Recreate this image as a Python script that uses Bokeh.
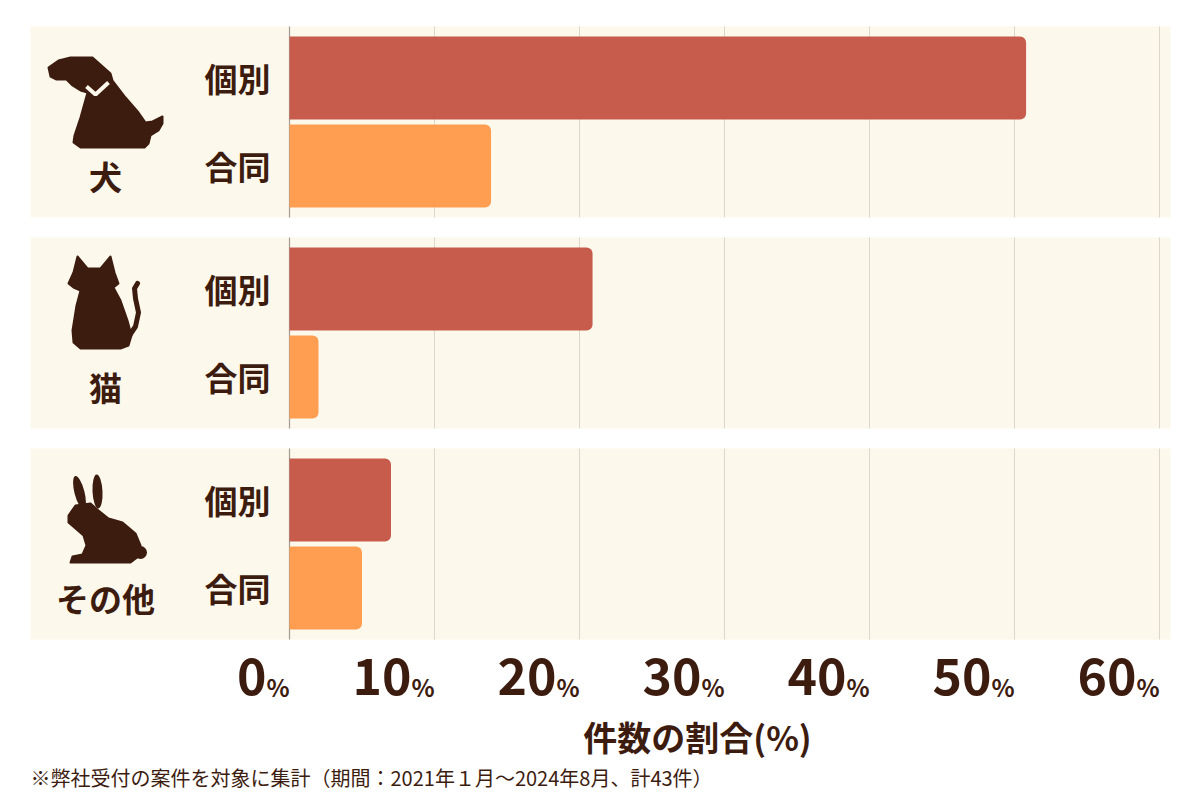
from bokeh.plotting import figure
from bokeh.models import Range1d
from bokeh.core.properties import value
from bokeh.embed import file_html
from bokeh.resources import INLINE

# data
groups = ["犬", "猫", "その他"]
kinds = ["個別", "合同"]
kobetsu = [50.8, 20.9, 7.0]   # 個別 (%)
goudou = [13.9, 2.0, 5.0]     # 合同 (%)
ticks = [0, 10, 20, 30, 40, 50, 60]
x_title = "件数の割合(%)"
note = "※弊社受付の案件を対象に集計（期間：2021年１月～2024年8月、計43件）"

W, H = 1184, 792
PX_PER_PCT = 14.5   # px per 1%
ZERO_X = 289        # px of 0%
ROW = 88            # px per bar row
GAP = 35            # extra px between groups
TOP = 77.5          # px of first bar center

FONT = value("Noto Sans CJK JP")
BROWN = "#3D1C10"
PANEL = "#FDF8EC"
C_KOBETSU = "#C75C4D"
C_GOUDOU = "#FF9E50"


def px_x(ix):
    return (ix - ZERO_X) / PX_PER_PCT


def px_y(iy):
    return (iy - TOP) / ROW


step = 2 + GAP / ROW
pos_k = [g * step for g in range(len(groups))]
pos_g = [g * step + 1 for g in range(len(groups))]
centers = [g * step + 0.5 for g in range(len(groups))]
half = 95.5 / ROW

p = figure(width=W, height=H, output_backend="svg", toolbar_location=None,
           x_range=Range1d(px_x(0), px_x(W)),
           y_range=Range1d(px_y(H), px_y(0)),
           min_border=0)
p.axis.visible = False
p.grid.visible = False
p.outline_line_color = None
p.background_fill_color = "white"
p.border_fill_color = "white"

# panels
p.quad(left=px_x(30), right=px_x(1170),
       top=[c - half for c in centers], bottom=[c + half for c in centers],
       fill_color=PANEL, line_color=None)

# grid lines per panel
gx, gy0, gy1 = [], [], []
for c in centers:
    for t in ticks[1:]:
        gx.append(t)
        gy0.append(c - half)
        gy1.append(c + half)
p.segment(x0=gx, y0=gy0, x1=gx, y1=gy1, line_color="#DDD6CA", line_width=1)
p.segment(x0=[0] * len(centers), y0=[c - half for c in centers],
          x1=[0] * len(centers), y1=[c + half for c in centers],
          line_color="#A39C93", line_width=1.2)

# bars
bh = 83 / ROW
p.hbar(y=pos_k, left=0, right=kobetsu, height=bh, fill_color=C_KOBETSU,
       line_color=None, border_radius=(0, 6, 6, 0))
p.hbar(y=pos_g, left=0, right=goudou, height=bh, fill_color=C_GOUDOU,
       line_color=None, border_radius=(0, 6, 6, 0))

# sub labels
p.text(x=px_x(270), y=pos_k + pos_g, text=[kinds[0]] * 3 + [kinds[1]] * 3,
       text_font=FONT, text_font_style="bold", text_font_size="33px",
       text_color=BROWN, text_align="right", text_baseline="middle")

# group labels
p.text(x=px_x(105), y=[c + 54 / ROW for c in centers], text=groups,
       text_font=FONT, text_font_style="bold", text_font_size="33px",
       text_color=BROWN, text_align="center", text_baseline="middle")

# icons (decorative silhouettes)
dog_x = [48, 58, 70, 92, 110, 112, 125, 138, 145, 152, 158, 162, 162, 158, 150,
         148, 144, 80, 73, 74, 80, 87, 80, 72, 66, 56, 50]
dog_y = [67, 60, 57, 57, 73, 80, 97, 112, 122, 121, 118, 116, 123, 130, 135,
         143, 147, 147, 142, 135, 117, 92, 90, 85, 79, 79, 76]
cat_x = [77, 87, 100, 110, 114, 118, 113, 120, 127, 131, 128, 120, 80, 73, 72,
         76, 80, 73, 68, 73]
cat_y = [256, 268, 268, 256, 272, 283, 287, 300, 320, 335, 345, 348, 348, 342,
         330, 305, 290, 287, 283, 272]
rab_x = [68, 75, 90, 98, 108, 122, 135, 140, 138, 130, 70, 72, 82, 86, 83, 75, 68]
rab_y = [515, 505, 503, 510, 518, 522, 533, 545, 556, 562, 562, 556, 554, 545,
         535, 528, 522]
p.patches(xs=[[px_x(v) for v in dog_x], [px_x(v) for v in cat_x],
              [px_x(v) for v in rab_x]],
          ys=[[px_y(v) for v in dog_y], [px_y(v) for v in cat_y],
              [px_y(v) for v in rab_y]],
          fill_color=BROWN, line_color=BROWN, line_width=2, line_join="round")
# dog collar
p.line(x=[px_x(v) for v in [86, 95, 108]], y=[px_y(v) for v in [86, 94, 82]],
       line_color=PANEL, line_width=4)
# cat tail
p.line(x=[px_x(v) for v in [127, 135, 138, 135, 134, 137]],
       y=[px_y(v) for v in [338, 326, 312, 298, 288, 283]],
       line_color=BROWN, line_width=5, line_cap="round", line_join="round")
# rabbit ears and tail
p.ellipse(x=[px_x(79), px_x(97)], y=[px_y(492), px_y(491)], width=10, height=34,
          width_units="screen", height_units="screen", angle=[0.25, 0.05],
          fill_color=BROWN, line_color=None)
p.scatter(x=[px_x(140)], y=[px_y(552)], size=13, fill_color=BROWN, line_color=None)

# tick labels
p.text(x=ticks, y=px_y(676), text=[str(t) for t in ticks], x_offset=-23,
       text_font=FONT, text_font_style="bold", text_font_size="50px",
       text_color=BROWN, text_align="right", text_baseline="middle")
p.text(x=ticks, y=px_y(686), text=["%"] * len(ticks),
       text_font=FONT, text_font_style="bold", text_font_size="24px",
       text_color=BROWN, text_align="right", text_baseline="middle")

# axis title and note
p.text(x=[px_x(697)], y=[px_y(736)], text=[x_title],
       text_font=FONT, text_font_style="bold", text_font_size="34px",
       text_color=BROWN, text_align="center", text_baseline="middle")
p.text(x=[px_x(30)], y=[px_y(777)], text=[note],
       text_font=FONT, text_font_size="20px",
       text_color=BROWN, text_align="left", text_baseline="middle")

open("out.html", "w").write(file_html(p, INLINE))
